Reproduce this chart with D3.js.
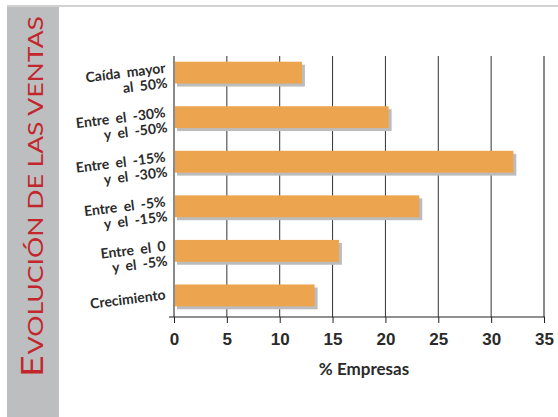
<!DOCTYPE html>
<html>
<head>
<meta charset="utf-8">
<script src="https://cdn.jsdelivr.net/npm/d3@7"></script>
<style>
    body { margin: 0; background: #fff; }
    svg { display: block; font-family: Lato, "Open Sans", sans-serif; }
    .grid line { stroke: #333; stroke-width: 1; }
    .axis--x path, .axis--x line { stroke: #222; }
    .axis--x text { font-size: 17px; font-weight: bold; fill: #2a2a2a; }
    .cat { font-size: 14px; font-weight: bold; fill: #2b2b2b; word-spacing: 3px; }
</style>
</head>
<body>
<div id="chart"></div>
<script>
var categories = [
    ["Caída mayor", "al 50%"],
    ["Entre el -30%", "y el -50%"],
    ["Entre el -15%", "y el -30%"],
    ["Entre el -5%", "y el -15%"],
    ["Entre el 0", "y el -5%"],
    ["Crecimiento"]
];
var values = [12.1, 20.3, 32.1, 23.2, 15.6, 13.3];
var xTicks = [0, 5, 10, 15, 20, 25, 30, 35];
var title = ["E", "VOLUCIÓN DE LAS VENTAS"];
var xLabel = "% Empresas";

var width = 558
    , height = 417
    , left = 174
    , right = 544
    , gridTop = 56
    , bottom = 317
    ;

var svg = d3.select("#chart")
    .append("svg")
    .attr("width", width)
    .attr("height", height);

// side band with the title
svg.append("rect")
    .attr("x", 7).attr("y", 7)
    .attr("width", 52).attr("height", height - 7)
    .attr("fill", "#bdbec0");

svg.append("line")
    .attr("x1", 7).attr("x2", width)
    .attr("y1", 6).attr("y2", 6)
    .attr("stroke", "#d2d2d2")
    .attr("stroke-width", 2);

// title: squeeze it so it runs from y=377 up to y=17
var tg = svg.append("g")
    .attr("transform", "translate(43,377) rotate(-90)");
var t = tg.append("text")
    .attr("fill", "#c1272d")
    .attr("font-weight", "normal");
t.append("tspan").attr("font-size", 31).text(title[0]);
t.append("tspan").attr("font-size", 22).attr("dx", 1).text(title[1]);
var tLen = t.node().getComputedTextLength();
t.attr("transform", "scale(" + (360 / tLen) + ",1)");

var x = d3.scaleLinear()
    .domain([0, 35])
    .range([left, right]);

var y = d3.scaleBand()
    .domain(d3.range(categories.length))
    .range([51, bottom])
    .paddingInner(0.51)
    .paddingOuter(0.24);

// vertical grid
svg.append("g")
    .attr("class", "grid")
    .selectAll("line")
    .data(xTicks)
    .join("line")
    .attr("x1", function(d) { return x(d); })
    .attr("x2", function(d) { return x(d); })
    .attr("y1", gridTop)
    .attr("y2", bottom)
    .style("stroke", function(d, i) { return (i == 0 || i == xTicks.length - 1) ? "#8a8a8a" : null; })
    .style("stroke-width", function(d, i) { return (i == 0 || i == xTicks.length - 1) ? 2 : null; });

// shadows then bars
svg.append("g")
    .selectAll("rect")
    .data(values)
    .join("rect")
    .attr("x", x(0) + 3)
    .attr("y", function(d, i) { return y(i) + 3; })
    .attr("width", function(d) { return x(d) - x(0); })
    .attr("height", y.bandwidth())
    .attr("fill", "#bcbcbc");

svg.append("g")
    .selectAll("rect")
    .data(values)
    .join("rect")
    .attr("x", x(0) + 1)
    .attr("y", function(d, i) { return y(i); })
    .attr("width", function(d) { return x(d) - x(0) - 1; })
    .attr("height", y.bandwidth())
    .attr("fill", "#eca44e");

var xAxis = d3.axisBottom(x)
    .tickValues(xTicks)
    .tickSizeOuter(0)
    .tickSizeInner(6)
    .tickPadding(10);

var gx = svg.append("g")
    .attr("class", "axis axis--x")
    .attr("transform", "translate(0," + bottom + ")")
    .call(xAxis);
gx.select(".domain")
    .attr("d", "M" + (left - 5) + ",0H" + (right + 1));

svg.append("text")
    .attr("x", 364)
    .attr("y", 375)
    .attr("text-anchor", "middle")
    .attr("font-size", 17)
    .attr("font-weight", "bold")
    .attr("fill", "#2a2a2a")
    .text(xLabel);

// category labels, slightly tilted
var labels = svg.append("g")
    .selectAll("text")
    .data(categories)
    .join("text")
    .attr("class", "cat")
    .attr("text-anchor", "end")
    .attr("transform", function(d, i) {
        var cy = y(i) + y.bandwidth() / 2 + (d.length == 1 ? 4 : 0);
        return "translate(166," + cy + ") rotate(-7)";
    });

labels.selectAll("tspan")
    .data(function(d) { return d; })
    .join("tspan")
    .attr("x", 0)
    .attr("dy", function(d, i) { return i ? 15 : 0; })
    .text(function(d) { return d; });
</script>
</body>
</html>
